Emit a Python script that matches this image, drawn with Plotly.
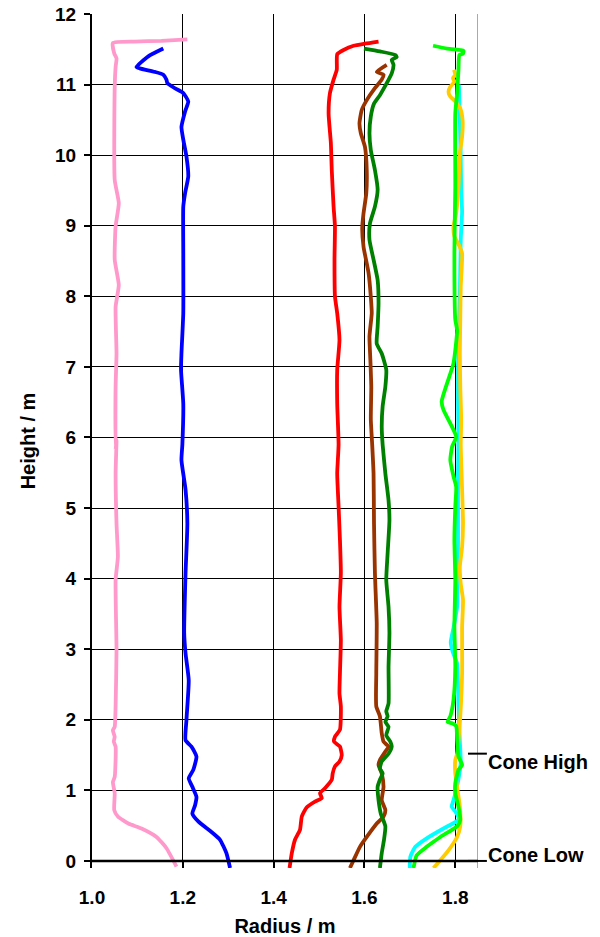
import plotly.graph_objects as go

# Radial wall profiles: radius (m) against height (m) for eight surveys
pink_r = [1.210, 1.153, 1.094, 1.046, 1.049, 1.054, 1.052, 1.050, 1.050, 1.059, 1.052, 1.050, 1.059, 1.052,
          1.054, 1.052, 1.052, 1.054, 1.052, 1.054, 1.057, 1.052, 1.054, 1.052, 1.050, 1.046, 1.050, 1.048,
          1.052, 1.050, 1.046, 1.050, 1.049, 1.057, 1.080, 1.109, 1.142, 1.164, 1.186]
pink_h = [11.64, 11.62, 11.61, 11.59, 11.44, 11.37, 11.25, 10.97, 9.65, 9.32, 8.99, 8.52, 8.16, 7.85,
          7.19, 6.72, 5.82, 5.965, 5.49, 4.78, 4.31, 3.98, 2.99, 2.19, 1.90, 1.85, 1.76, 1.69,
          1.62, 1.19, 1.12, 0.96, 0.72, 0.63, 0.53, 0.46, 0.34, 0.18, -0.08]

blue_r = [1.157, 1.124, 1.098, 1.105, 1.138, 1.157, 1.164, 1.166, 1.182, 1.201, 1.212, 1.205, 1.197, 1.201,
          1.208, 1.212, 1.205, 1.201, 1.201, 1.201, 1.197, 1.196, 1.201, 1.199, 1.197, 1.206, 1.210,
          1.206, 1.203, 1.206, 1.213, 1.208, 1.206, 1.219, 1.230, 1.223, 1.213, 1.221, 1.230, 1.227,
          1.221, 1.234, 1.263, 1.282, 1.296, 1.304]
blue_h = [11.51, 11.40, 11.25, 11.23, 11.18, 11.14, 11.07, 11.02, 10.95, 10.88, 10.76, 10.62, 10.40, 10.22,
          9.98, 9.70, 9.46, 9.27, 8.61, 7.76, 7.19, 6.96, 6.48, 5.90, 5.68, 5.26, 4.78,
          4.08, 3.23, 2.94, 2.56, 2.00, 1.71, 1.62, 1.48, 1.29, 1.17, 1.05, 0.91, 0.79,
          0.67, 0.56, 0.41, 0.30, 0.11, -0.10]

red_r = [1.631, 1.601, 1.576, 1.554, 1.540, 1.539, 1.532, 1.524, 1.521, 1.526, 1.528, 1.532, 1.535, 1.534,
         1.535, 1.540, 1.545, 1.540, 1.540, 1.543, 1.540, 1.543, 1.546, 1.548, 1.545, 1.548, 1.546,
         1.545, 1.548, 1.546, 1.535, 1.533, 1.546, 1.550, 1.545, 1.535, 1.530, 1.528, 1.513, 1.502,
         1.506, 1.491, 1.473, 1.462, 1.458, 1.447, 1.440, 1.435]
red_h = [11.61, 11.58, 11.55, 11.49, 11.43, 11.21, 11.07, 10.88, 10.59, 10.17, 9.79, 9.27, 8.99, 8.52,
         8.00, 7.76, 7.38, 6.96, 6.48, 5.90, 5.49, 5.02, 4.55, 4.08, 3.60, 3.13, 2.66,
         2.37, 2.19, 1.86, 1.76, 1.69, 1.62, 1.50, 1.41, 1.34, 1.24, 1.15, 1.03, 0.96,
         0.89, 0.84, 0.76, 0.63, 0.44, 0.30, 0.11, -0.10]

brown_r = [1.649, 1.627, 1.642, 1.638, 1.623, 1.605, 1.594, 1.589, 1.592, 1.601, 1.605, 1.604, 1.598, 1.595,
           1.598, 1.609, 1.614, 1.616, 1.611, 1.613, 1.615, 1.614, 1.617, 1.620, 1.621, 1.623, 1.627,
           1.626, 1.626, 1.634, 1.638, 1.642, 1.653, 1.646, 1.634, 1.631, 1.638, 1.642, 1.638, 1.646,
           1.642, 1.627, 1.605, 1.590, 1.576, 1.568]
brown_h = [11.28, 11.18, 11.14, 11.07, 10.95, 10.78, 10.64, 10.45, 10.31, 10.12, 9.79, 9.46, 9.18, 8.96,
           8.70, 8.33, 7.99, 7.76, 7.43, 7.10, 6.72, 6.25, 5.90, 5.49, 4.78, 4.08, 3.37,
           2.66, 2.19, 2.05, 1.81, 1.69, 1.62, 1.55, 1.43, 1.36, 1.24, 1.05, 0.86, 0.72,
           0.63, 0.53, 0.34, 0.20, 0.01, -0.10]

green_r = [1.599, 1.634, 1.668, 1.671, 1.660, 1.664, 1.660, 1.649, 1.634, 1.621, 1.614, 1.611, 1.614, 1.623,
           1.629, 1.623, 1.612, 1.611, 1.620, 1.629, 1.631, 1.629, 1.627, 1.638, 1.648, 1.646, 1.640,
           1.638, 1.640, 1.646, 1.653, 1.655, 1.651, 1.648, 1.653, 1.655, 1.653, 1.653, 1.648, 1.651,
           1.646, 1.653, 1.648, 1.657, 1.660, 1.653, 1.638, 1.634, 1.640, 1.634, 1.629, 1.631, 1.636,
           1.646, 1.643, 1.638, 1.634]
green_h = [11.51, 11.47, 11.42, 11.39, 11.35, 11.28, 11.16, 11.02, 10.85, 10.73, 10.55, 10.31, 10.07, 9.79,
           9.51, 9.27, 9.03, 8.80, 8.52, 8.23, 7.90, 7.57, 7.33, 7.19, 6.96, 6.72, 6.44,
           6.15, 5.90, 5.49, 5.11, 4.83, 4.36, 3.98, 3.60, 3.23, 2.75, 2.23, 2.12, 2.05,
           1.97, 1.90, 1.78, 1.69, 1.62, 1.52, 1.41, 1.31, 1.24, 1.15, 1.05, 0.86, 0.67,
           0.49, 0.30, 0.11, -0.10]

cyan_r = [1.808, 1.810, 1.812, 1.813, 1.815, 1.812, 1.810, 1.808, 1.806, 1.806, 1.807, 1.806, 1.806, 1.806,
          1.805, 1.804, 1.796, 1.790, 1.795, 1.804, 1.806, 1.808, 1.810, 1.812, 1.808, 1.802, 1.796,
          1.792, 1.800, 1.808, 1.800, 1.774, 1.737, 1.712, 1.701, 1.700]
cyan_h = [11.00, 10.50, 10.00, 9.50, 9.20, 8.80, 8.00, 7.50, 7.00, 6.50, 6.00, 5.50, 5.00, 4.50,
          4.00, 3.60, 3.30, 3.10, 2.95, 2.80, 2.50, 2.00, 1.70, 1.40, 1.20, 1.00, 0.86,
          0.77, 0.70, 0.60, 0.55, 0.46, 0.32, 0.20, 0.06, -0.10]

gold_r = [1.797, 1.800, 1.795, 1.798, 1.789, 1.785, 1.789, 1.800, 1.811, 1.816, 1.815, 1.810, 1.807, 1.802,
          1.796, 1.798, 1.810, 1.815, 1.812, 1.811, 1.810, 1.811, 1.813, 1.812, 1.815, 1.817, 1.815,
          1.810, 1.812, 1.817, 1.815, 1.815, 1.811, 1.807, 1.804, 1.800, 1.800, 1.804, 1.810, 1.811,
          1.804, 1.785, 1.767, 1.752]
gold_h = [11.21, 11.14, 11.09, 11.04, 10.97, 10.90, 10.83, 10.76, 10.66, 10.50, 10.26, 10.03, 9.55, 9.18,
          8.99, 8.85, 8.70, 8.61, 8.14, 7.67, 7.19, 6.72, 6.25, 5.90, 5.26, 4.78, 4.45,
          4.17, 3.93, 3.70, 3.32, 2.66, 2.05, 1.71, 1.52, 1.43, 1.24, 1.05, 0.77, 0.49,
          0.34, 0.15, 0.01, -0.10]

lime_r = [1.751, 1.782, 1.811, 1.818, 1.817, 1.809, 1.807, 1.804, 1.800, 1.800, 1.798, 1.800, 1.804, 1.796,
          1.782, 1.770, 1.774, 1.789, 1.802, 1.793, 1.789, 1.796, 1.802, 1.800, 1.798, 1.800, 1.798,
          1.800, 1.796, 1.789, 1.783, 1.793, 1.802, 1.804, 1.807, 1.815, 1.807, 1.800, 1.800, 1.807,
          1.811, 1.804, 1.767, 1.737, 1.715, 1.708]
lime_h = [11.55, 11.51, 11.49, 11.48, 11.44, 11.42, 11.21, 10.88, 10.59, 9.55, 8.61, 7.67, 7.52, 7.05,
          6.77, 6.51, 6.39, 6.20, 6.01, 5.87, 5.68, 5.45, 5.30, 5.02, 4.55, 3.98, 3.32,
          2.75, 2.28, 2.05, 1.97, 1.95, 1.91, 1.71, 1.48, 1.36, 1.29, 1.10, 0.96, 0.77,
          0.58, 0.49, 0.34, 0.20, 0.08, -0.10]

series = [
    ("pink", pink_r, pink_h, "#FF99CC"),
    ("blue", blue_r, blue_h, "#0000FF"),
    ("red", red_r, red_h, "#FF0000"),
    ("brown", brown_r, brown_h, "#993300"),
    ("green", green_r, green_h, "#008000"),
    ("cyan", cyan_r, cyan_h, "#00FFFF"),
    ("gold", gold_r, gold_h, "#FFCC00"),
    ("lime", lime_r, lime_h, "#00FF00"),
]

x_ticks = [1.0, 1.2, 1.4, 1.6, 1.8]
x_tick_text = ["1.0", "1.2", "1.4", "1.6", "1.8"]
y_ticks = list(range(0, 13))
cone_labels = ["Cone Low", "Cone High"]
cone_heights = [0.0, 1.52]
cone_shift = [6, -8]

FONT = "Liberation Sans, Arial, sans-serif"
X_MAX = 1.85
TICK_FONT = dict(family=FONT, size=19, color="black", weight="bold")
TITLE_FONT = dict(family=FONT, size=20, color="black", weight="bold")

fig = go.Figure()
for name, r, h, col in series:
    fig.add_trace(go.Scatter(x=r, y=h, mode="lines", name=name,
                             line=dict(color=col, width=3.8, shape="spline", smoothing=0.5),
                             hoverinfo="skip", showlegend=False))

# Baseline at height zero and right-hand frame
fig.add_shape(type="line", xref="x", yref="y", x0=1.0, x1=X_MAX, y0=0, y1=0,
              line=dict(color="black", width=2.5), layer="above")
fig.add_shape(type="line", xref="x", yref="y", x0=X_MAX, x1=X_MAX, y0=-0.1, y1=12,
              line=dict(color="#555555", width=1), layer="above")

# Cone markers on the right edge
for lab, hv, sh in zip(cone_labels, cone_heights, cone_shift):
    fig.add_shape(type="line", xref="paper", yref="y", x0=0.974, x1=1.023, y0=hv, y1=hv,
                  line=dict(color="black", width=2), layer="above")
    fig.add_annotation(xref="paper", yref="y", x=1.02, y=hv, text=lab, showarrow=False,
                       xanchor="left", yanchor="middle", yshift=sh, font=TITLE_FONT)

fig.update_layout(
    width=600, height=937,
    margin=dict(l=92, r=122, t=14, b=69),
    paper_bgcolor="white", plot_bgcolor="white",
    font=dict(family=FONT, color="black"),
    xaxis=dict(range=[1.0, X_MAX], tickvals=x_ticks, ticktext=x_tick_text, automargin=False,
               showgrid=True, gridcolor="black", gridwidth=1, zeroline=False,
               showline=False, ticks="inside", ticklen=7, tickwidth=2, tickcolor="black",
               tickfont=TICK_FONT, ticklabelstandoff=16,
               title=dict(text="Radius / m", font=TITLE_FONT, standoff=17)),
    yaxis=dict(range=[-0.1, 12], tickvals=y_ticks, automargin=False,
               showgrid=True, gridcolor="black", gridwidth=1,
               zeroline=False, showline=True, linecolor="black", linewidth=2,
               ticks="outside", ticklen=6, tickwidth=2, tickcolor="black",
               tickfont=TICK_FONT, ticklabelstandoff=4,
               title=dict(text="Height / m", font=TITLE_FONT, standoff=14)),
)

fig.write_html("out.html")
